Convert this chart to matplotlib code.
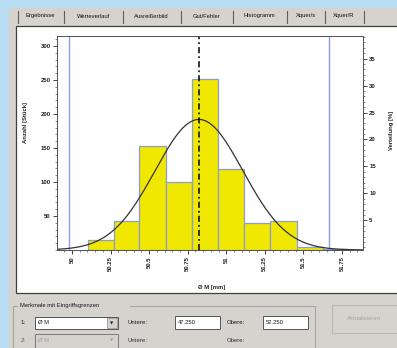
import matplotlib
matplotlib.use("Agg")
import matplotlib.pyplot as plt
import numpy as np
from matplotlib.patches import Rectangle
from matplotlib.lines import Line2D
from matplotlib.ticker import MultipleLocator, FixedLocator, FixedFormatter

# ---------------- data ----------------
bin_edges = [50.102, 50.272, 50.436, 50.609, 50.776, 50.944, 51.117, 51.283, 51.456, 51.627, 51.789]
counts = [15, 43, 153, 100, 251, 119, 40, 43, 5, 2]
x_ticks = [50.0, 50.25, 50.5, 50.75, 51.0, 51.25, 51.5, 51.75]
x_tick_labels = ["50", "50.25", "50.5", "50.75", "51", "51.25", "51.5", "51.75"]
mean_value = 50.823
sigma_value = 0.285
curve_peak = 192
spec_lower = 49.98
spec_upper = 51.666
tab_names = ["Ergebnisse", "Werteverlauf", "Ausreißerbild", "Gut/Fehler", "Histogramm", "Xquer/s", "Xquer/R"]
lower_limit_text = "47.250"
upper_limit_text = "52.250"

W, H = 397, 348
fig = plt.figure(figsize=(W / 100, H / 100), dpi=100)
fig.patch.set_facecolor("#d6d3ce")

def fx(x):
    return x / W

def fy(y):
    return 1 - y / H

def rect(x0, y0, x1, y1, fc, ec="none", lw=0.8, z=-5):
    fig.patches.append(Rectangle((fx(x0), fy(y1)), fx(x1) - fx(x0), fy(y0) - fy(y1),
                                 transform=fig.transFigure, facecolor=fc, edgecolor=ec,
                                 linewidth=lw, zorder=z))

def vline(x, y0, y1, c, lw=0.8, z=-4):
    fig.lines.append(Line2D([fx(x), fx(x)], [fy(y0), fy(y1)], transform=fig.transFigure,
                            color=c, linewidth=lw, zorder=z))

def txt(x, y, s, size=4.3, color="#1a1a1a", ha="left", weight="normal"):
    fig.text(fx(x), fy(y), s, fontsize=size, color=color, ha=ha, va="center",
             family="Liberation Sans", weight=weight, zorder=3)

# desktop blue border
rect(0, 0, W, 8, "#b8dcf2", z=-10)
rect(0, 0, 9, H, "#b8dcf2", z=-10)

# tabs
tab_x = [(19, 62), (66, 121), (124, 179), (182, 231), (234, 285), (288, 323), (326, 362)]
for (a, b), name in zip(tab_x, tab_names):
    txt((a + b) / 2, 16, name, ha="center", size=4.2, color="#111111")
    vline(b + 1.5, 11, 23, "#606060", lw=0.8)
vline(17.5, 11, 23, "#606060", lw=0.8)

# white panel
rect(16, 26, 402, 293, "white", ec="#404040", lw=0.9, z=-8)

# ---------------- chart ----------------
ax = fig.add_axes([fx(57), fy(250), fx(363) - fx(57), fy(36) - fy(250)])
ax.set_zorder(2)
ax.set_facecolor("white")
ax.set_xlim(49.903, 51.886)
ax.set_ylim(0, 314.7)

widths = np.diff(bin_edges)
ax.bar(bin_edges[:-1], counts, width=widths, align="edge", color="#f0e800",
       edgecolor="#8c9cd4", linewidth=0.9, zorder=2)

ax.axvline(spec_lower, color="#8d9de0", lw=1.0, zorder=1)
ax.axvline(spec_upper, color="#8d9de0", lw=1.0, zorder=1)

xc = np.linspace(49.903, 51.886, 400)
yc = curve_peak * np.exp(-0.5 * ((xc - mean_value) / sigma_value) ** 2)
ax.plot(xc, yc, color="#333333", lw=0.9, zorder=3)

ax.axvline(mean_value, color="black", lw=1.1, dashes=(4, 2, 1.2, 2), zorder=4)

ax.yaxis.set_major_locator(FixedLocator([50, 100, 150, 200, 250, 300]))
ax.yaxis.set_minor_locator(MultipleLocator(10))
ax.xaxis.set_major_locator(FixedLocator(x_ticks))
ax.xaxis.set_major_formatter(FixedFormatter(x_tick_labels))
ax.xaxis.set_minor_locator(MultipleLocator(0.05))
ax.tick_params(axis="both", which="major", direction="out", length=3, width=0.6,
               labelsize=4.3, colors="#222222", pad=1.5)
ax.tick_params(axis="both", which="minor", direction="out", length=1.6, width=0.5,
               colors="#555555")
for lab in ax.get_xticklabels():
    lab.set_rotation(90)
    lab.set_fontweight("bold")
    lab.set_family("Liberation Sans")
for lab in ax.get_yticklabels():
    lab.set_fontweight("bold")
    lab.set_family("Liberation Sans")
for s in ax.spines.values():
    s.set_color("#555555")
    s.set_linewidth(0.7)

ax2 = ax.twinx()
ax2.set_zorder(3)
ax2.set_ylim(-0.49, 39.19)
ax2.yaxis.set_major_locator(FixedLocator([5, 10, 15, 20, 25, 30, 35]))
ax2.yaxis.set_minor_locator(MultipleLocator(1))
ax2.tick_params(axis="y", which="major", direction="out", length=3, width=0.6,
                labelsize=4.3, colors="#222222", pad=1.5)
ax2.tick_params(axis="y", which="minor", direction="out", length=1.6, width=0.5,
                colors="#555555")
for lab in ax2.get_yticklabels():
    lab.set_fontweight("bold")
    lab.set_family("Liberation Sans")
for s in ax2.spines.values():
    s.set_color("#555555")
    s.set_linewidth(0.7)

fig.text(fx(25), fy(122), "Anzahl [Stück]", rotation=90, fontsize=4.2, weight="bold",
         family="Liberation Sans", color="#222222", ha="center", va="center")
fig.text(fx(392), fy(130), "Verteilung [%]", rotation=90, fontsize=4.2, weight="bold",
         family="Liberation Sans", color="#222222", ha="center", va="center")
fig.text(fx(212), fy(287), "Ø M [mm]", fontsize=4.2, weight="bold",
         family="Liberation Sans", color="#222222", ha="center", va="center")

# ---------------- bottom controls ----------------
# group box
rect(13, 306, 315, 352, "none", ec="#a8a6a0", lw=0.8, z=-6)
rect(18, 301, 130, 309, "#d6d3ce", z=-5)
txt(20, 305, "Merkmale mit Eingriffsgrenzen", size=4.2)

# row 1
txt(21, 323, "1:")
rect(35, 317, 118, 329, "white", ec="#555555", lw=0.7, z=-5)
txt(38, 323, "Ø M", size=4.2)
rect(107, 318, 117, 328, "#d6d3ce", ec="#888888", lw=0.5, z=-4)
fig.text(fx(112), fy(323.5), "▼", fontsize=3, color="#222222", ha="center", va="center", zorder=4)
txt(128, 323, "Untere:")
rect(175, 316, 220, 329, "white", ec="#555555", lw=0.7, z=-5)
txt(178, 322.5, lower_limit_text, size=4.2)
txt(227, 323, "Obere:")
rect(263, 316, 308, 329, "white", ec="#555555", lw=0.7, z=-5)
txt(266, 322.5, upper_limit_text, size=4.2)

# row 2 (disabled)
txt(21, 340, "2:", color="#555555")
rect(35, 334, 118, 348, "#d6d3ce", ec="#7a7a7a", lw=0.7, z=-5)
txt(38, 340, "Ø M", size=4.2, color="#a0a0a0")
fig.text(fx(112), fy(340.5), "▼", fontsize=3, color="#a0a0a0", ha="center", va="center", zorder=4)
txt(128, 340, "Untere:", color="#333333")
txt(227, 340, "Obere:", color="#333333")

# button
rect(332, 305, 402, 333, "#d6d3ce", ec="#bdbab4", lw=0.9, z=-5)
txt(364, 319, "Aktualisieren", size=4.2, color="#a8a6a2", ha="center")

fig.savefig("out.png", dpi=100, facecolor=fig.get_facecolor())
